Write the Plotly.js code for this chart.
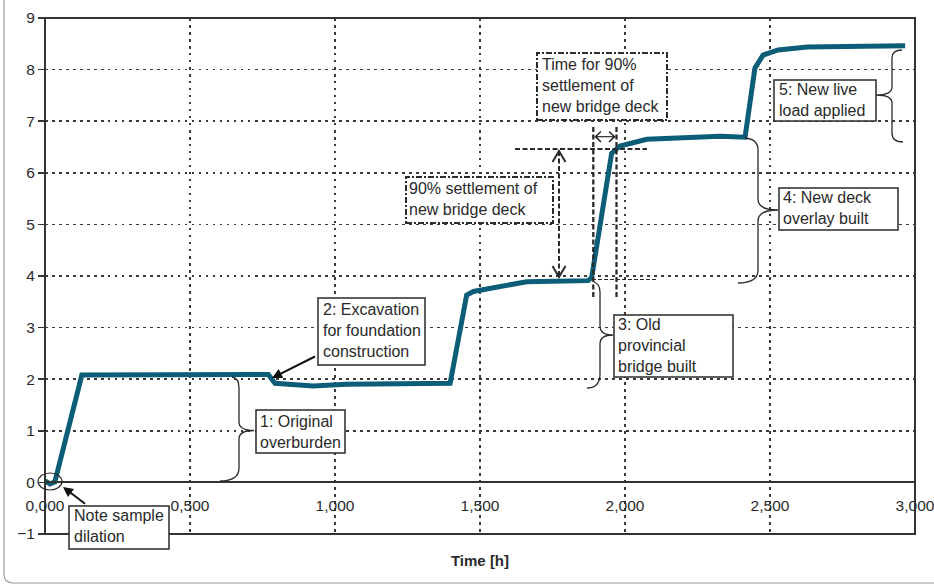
<!DOCTYPE html>
<html><head><meta charset="utf-8">
<script src="https://cdn.plot.ly/plotly-3.0.1.min.js"></script>
<style>html,body{margin:0;padding:0;background:#fff;overflow:hidden;} #chart{width:934px;height:585px;}</style>
</head><body><div id="chart"></div>
<script>
// ---- data ----
const timeH = [0, 17, 34, 127, 770, 793, 925, 1040, 1397, 1454, 1477, 1661, 1873, 1885, 1954, 1983, 2075, 2328, 2414, 2448, 2476, 2528, 2628, 2966];
const settlement = [0.03, -0.03, 0.01, 2.08, 2.09, 1.92, 1.87, 1.90, 1.92, 3.63, 3.70, 3.89, 3.91, 3.97, 6.38, 6.52, 6.65, 6.71, 6.69, 8.03, 8.28, 8.38, 8.44, 8.46];
const xTickVals = [0, 500, 1000, 1500, 2000, 2500, 3000];
const xTickText = ['0,000', '0,500', '1,000', '1,500', '2,000', '2,500', '3,000'];
const yTickVals = [-1, 0, 1, 2, 3, 4, 5, 6, 7, 8, 9];
const yTickText = ['\u22121', '0', '1', '2', '3', '4', '5', '6', '7', '8', '9'];
const xTitle = 'Time [h]';
const labelNote = 'Note sample<br>dilation';
const label1 = '1: Original<br>overburden';
const label2 = '2: Excavation<br>for foundation<br>construction';
const label3 = '3: Old<br>provincial<br>bridge built';
const label4 = '4: New deck<br>overlay built';
const label5 = '5: New live<br>load applied';
const label90 = '90% settlement of<br>new bridge deck';
const labelTime90 = 'Time for 90%<br>settlement of<br>new bridge deck';

// ---- geometry helpers (canvas pixels -> paper fraction) ----
const PL = 45, PR = 915, PT = 18, PB = 534;
const fx = px => (px - PL) / (PR - PL);
const fy = py => (PB - py) / (PB - PT);
function pathOf(segs) {
  return segs.map(s => {
    const c = s[0]; const out = [c];
    for (let i = 1; i < s.length; i += 2) out.push(fx(s[i]).toFixed(5) + ',' + fy(s[i + 1]).toFixed(5));
    return out.join(' ');
  }).join(' ');
}
const FONT = 'Liberation Sans, Arial, Helvetica, sans-serif';
const INK = '#2a2a2a';

function box(x0, y0, x1, y1, dash, w) {
  return {type: 'rect', xref: 'paper', yref: 'paper', x0: fx(x0), x1: fx(x1), y0: fy(y1), y1: fy(y0),
    line: {color: INK, width: w || 1.5, dash: dash || 'solid'}, fillcolor: '#ffffff', layer: 'above'};
}
function pth(segs, w, dash) {
  return {type: 'path', xref: 'paper', yref: 'paper', path: pathOf(segs),
    line: {color: INK, width: w || 1.3, dash: dash || 'solid'}, layer: 'above'};
}
function label(text, left, cy) {
  return {xref: 'paper', yref: 'paper', x: fx(left), y: fy(cy), xanchor: 'left', yanchor: 'middle',
    text: text, showarrow: false, align: 'left', font: {family: FONT, size: 16, color: INK}};
}
function arrow(tipX, tipY, tailX, tailY) {
  return {xref: 'paper', yref: 'paper', x: fx(tipX), y: fy(tipY), ax: tailX - tipX, ay: tailY - tipY,
    text: ' ', showarrow: true, arrowhead: 2, arrowsize: 1, arrowwidth: 2, arrowcolor: '#111', standoff: 0};
}

const dashDim = '5px,2.5px';
const dashDot = '6px,2px,2px,2px';

const shapes = [
  // outer rounded figure frame
  {type: 'path', xref: 'paper', yref: 'paper', path: pathOf([['M', 4, -10], ['L', 4, 574], ['Q', 4, 583, 13, 583], ['L', 950, 583]]),
    line: {color: '#9a9a9a', width: 1.2}, layer: 'above'},
  // plot frame
  {type: 'rect', xref: 'paper', yref: 'paper', x0: 0, x1: 1, y0: 0, y1: 1, line: {color: '#333', width: 2}, layer: 'above'},
  // sample dilation circle
  {type: 'circle', xref: 'paper', yref: 'paper', x0: fx(38), x1: fx(62), y0: fy(490), y1: fy(473), line: {color: INK, width: 1.2}, layer: 'above'},
  // boxes
  box(69, 506, 169, 549),
  box(256, 410, 345, 453),
  box(318, 298, 425, 365),
  box(614, 315, 733, 377),
  box(774, 80, 876, 121),
  box(779, 188, 898, 230),
  box(406, 177, 553, 223, dashDot, 2),
  box(537, 53, 667, 120, dashDot, 2),
  // braces
  pth([['M', 232, 377], ['Q', 239, 378, 239, 388], ['L', 239, 422], ['Q', 239, 430.5, 254, 430.5], ['Q', 239, 430.5, 239, 439], ['L', 239, 468], ['Q', 239, 481, 220, 481]]),
  pth([['M', 594, 282], ['Q', 600, 284, 600, 292], ['L', 600, 326], ['Q', 600, 335, 613, 335], ['Q', 600, 335, 600, 344], ['L', 600, 374], ['Q', 600, 388, 587, 388]]),
  pth([['M', 745, 138], ['Q', 758, 139, 758, 150], ['L', 758, 199], ['Q', 758, 210, 778, 210], ['Q', 758, 210, 758, 221], ['L', 758, 270], ['Q', 758, 283, 738, 283]]),
  pth([['M', 902, 50], ['Q', 892, 50, 892, 58], ['L', 892, 87], ['Q', 892, 95, 876, 95], ['Q', 892, 95, 892, 103], ['L', 892, 133], ['Q', 892, 142, 903, 142]]),
  // 90% settlement dimension lines
  pth([['M', 515, 149], ['L', 647, 149]], 2, dashDim),
  pth([['M', 592, 279.5], ['L', 657, 279.5]], 1.2, '4px,2px'),
  pth([['M', 559, 151], ['L', 559, 277]], 2, dashDim),
  pth([['M', 552.5, 162], ['L', 559, 151], ['L', 565.5, 162]], 2),
  pth([['M', 552.5, 266], ['L', 559, 277], ['L', 565.5, 266]], 2),
  // time for 90% dimension lines
  pth([['M', 593.3, 127], ['L', 593.3, 297]], 2.3, dashDim),
  pth([['M', 616.5, 127], ['L', 616.5, 297]], 2.3, dashDim),
  pth([['M', 595, 136.7], ['L', 615, 136.7]], 1.2),
  pth([['M', 601, 131.5], ['L', 595.5, 136.7], ['L', 601, 142]], 1.6),
  pth([['M', 609, 131.5], ['L', 614.5, 136.7], ['L', 609, 142]], 1.6)
];

const annotations = [
  label(labelNote, 72, 526),
  label(label1, 258, 431.5),
  label(label2, 320.5, 330.5),
  label(label3, 615.5, 345),
  label(label5, 777, 100.5),
  label(label4, 780.5, 208),
  label(label90, 407, 199.5),
  label(labelTime90, 539.5, 85),
  arrow(272, 378, 318, 355),
  arrow(63, 487, 88, 506)
];

const trace = {
  x: timeH, y: settlement, type: 'scatter', mode: 'lines',
  line: {color: '#0b5d78', width: 5}, hoverinfo: 'skip'
};

const gridStyle = {showgrid: true, gridcolor: '#3a3a3a', gridwidth: 1.5, griddash: '2.5px,4.5px', zeroline: false};

const layout = {
  width: 934, height: 585,
  margin: {l: 45, r: 19, t: 18, b: 51},
  paper_bgcolor: '#fff', plot_bgcolor: '#fff',
  showlegend: false,
  font: {family: FONT, color: INK},
  xaxis: Object.assign({
    range: [0, 3000], anchor: 'free', position: (PB - 482.4) / (PB - PT),
    tickmode: 'array', tickvals: xTickVals, ticktext: xTickText,
    showline: true, linecolor: '#333', linewidth: 2,
    ticks: 'outside', ticklen: 9, tickcolor: 'rgba(0,0,0,0)',
    ticklabeloverflow: 'allow',
    tickfont: {family: FONT, size: 15.5, color: INK},
    title: {text: xTitle, font: {family: FONT, size: 15, color: INK, weight: 'bold'}, standoff: 41},
    automargin: false
  }, gridStyle),
  yaxis: Object.assign({
    range: [-1, 9], tickmode: 'array', tickvals: yTickVals, ticktext: yTickText,
    showline: false, ticks: 'outside', ticklen: 6, tickwidth: 1.5, tickcolor: '#333',
    tickfont: {family: FONT, size: 15.5, color: INK}, automargin: false
  }, gridStyle),
  shapes: shapes,
  annotations: annotations
};

Plotly.newPlot('chart', [trace], layout, {staticPlot: true, displayModeBar: false});
</script>
</body></html>
